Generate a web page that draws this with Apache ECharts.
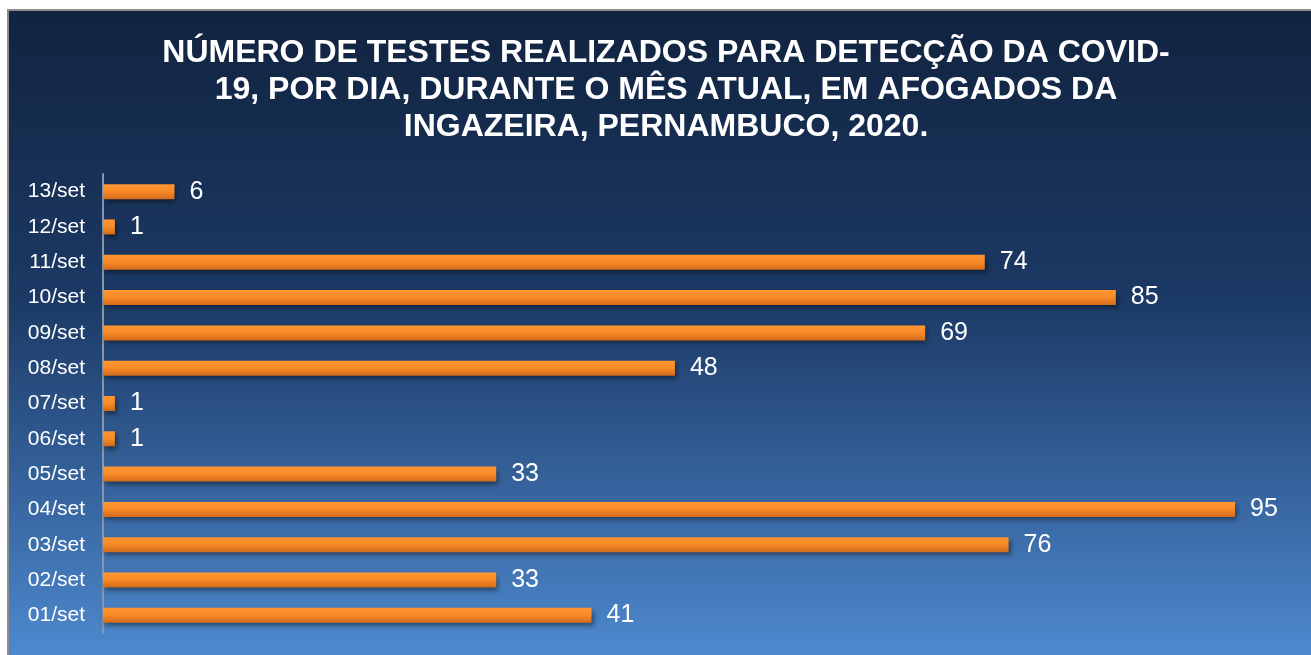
<!DOCTYPE html>
<html>
<head>
<meta charset="utf-8">
<script src="https://cdn.jsdelivr.net/npm/echarts@6/dist/echarts.min.js"></script>
<style>
  html, body { margin: 0; padding: 0; background: #fff; }
  #chart { width: 1311px; height: 655px; }
</style>
</head>
<body>
<div id="chart"></div>
<script>
const days = ["01/set", "02/set", "03/set", "04/set", "05/set", "06/set", "07/set",
  "08/set", "09/set", "10/set", "11/set", "12/set", "13/set"];
const tests = [41, 33, 76, 95, 33, 1, 1, 48, 69, 85, 74, 1, 6];
const titleText = "NÚMERO DE TESTES REALIZADOS PARA DETECÇÃO DA COVID-\n19, POR DIA, DURANTE O MÊS ATUAL, EM AFOGADOS DA\nINGAZEIRA, PERNAMBUCO, 2020.";

const chart = echarts.init(document.getElementById("chart"));

const option = {
  backgroundColor: "#ffffff",
  animation: false,
  graphic: [
    {
      type: "rect",
      z: -10,
      silent: true,
      shape: { x: 8, y: 10, width: 1310, height: 650 },
      style: {
        fill: new echarts.graphic.LinearGradient(0, 0, 0, 1, [
          { offset: 0, color: "#11233f" },
          { offset: 0.45, color: "#1c3a66" },
          { offset: 1, color: "#4e8ad0" },
        ]),
        stroke: "#8c8c8c",
        lineWidth: 2,
      },
    },
    {
      // title as free text so it can sit on the panel centre
      type: "text",
      silent: true,
      x: 666,
      y: 35,
      style: {
        text: titleText,
        fill: "#ffffff",
        font: "bold 32px 'Liberation Sans'",
        align: "center",
        verticalAlign: "top",
        lineHeight: 37,
      },
    },
  ],
  grid: {
    left: 103,
    top: 174,
    width: 1132,
    height: 459,
    containLabel: false,
  },
  xAxis: {
    type: "value",
    min: 0,
    max: 95,
    show: false,
  },
  yAxis: {
    type: "category",
    data: days,
    axisLine: { show: true, lineStyle: { color: "#8796ad", width: 2 } },
    axisTick: { show: false },
    axisLabel: {
      color: "#ffffff",
      fontFamily: "Liberation Sans",
      fontSize: 21,
      margin: 18,
    },
  },
  series: [
    {
      type: "bar",
      data: tests,
      barWidth: 15,
      itemStyle: {
        color: new echarts.graphic.LinearGradient(0, 0, 0, 1, [
          { offset: 0, color: "#ff9733" },
          { offset: 0.5, color: "#f78a26" },
          { offset: 1, color: "#d26a1a" },
        ]),
        shadowColor: "rgba(0, 0, 0, 0.45)",
        shadowBlur: 5,
        shadowOffsetX: 2,
        shadowOffsetY: 3,
      },
      label: {
        show: true,
        position: "right",
        distance: 15,
        color: "#ffffff",
        fontFamily: "Liberation Sans",
        fontSize: 25,
      },
    },
  ],
};

chart.setOption(option);
</script>
</body>
</html>
